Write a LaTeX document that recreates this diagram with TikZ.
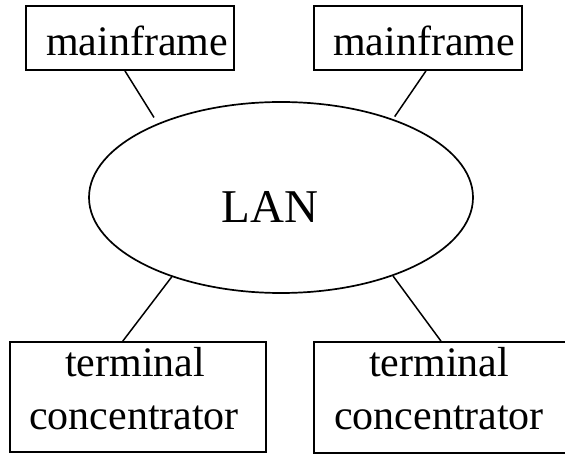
\documentclass[tikz,border=0pt]{standalone}
\usepackage{fontspec}
\setmainfont{Liberation Serif}
\usetikzlibrary{shapes.geometric,calc}
\begin{document}
\begin{tikzpicture}[x=1pt,y=-1pt,
  box/.style={draw,line width=1.8pt,rectangle,inner sep=0pt},
  lbl/.style={anchor=base,inner sep=0pt,font=\fontsize{42}{50}\selectfont},
  link/.style={line width=1.5pt}]
\useasboundingbox (0,0) rectangle (565,454);

% network cloud
\node[draw,ellipse,line width=1.7pt,minimum width=384,minimum height=191,inner sep=0pt] (lan) at (281,197.5) {};
\node[anchor=base,inner sep=0pt,font=\fontsize{47}{56}\selectfont] (lantext) at (270,223) {LAN};

% hosts
\node[box,minimum width=208,minimum height=64] (mf1) at (130,38) {};
\node[lbl,anchor=base west] (mf1t) at (46,56) {mainframe};
\node[box,minimum width=208,minimum height=64] (mf2) at (418,38) {};
\node[lbl,anchor=base west] (mf2t) at (333,56) {mainframe};

% concentrators (the right one runs past the page edge)
\node[box,minimum width=256,minimum height=110] (tc1) at (138,397) {};
\node[lbl] (tc1a) at (135,376) {terminal};
\node[lbl] (tc1b) at (134,429) {concentrator};
\node[box,minimum width=256,minimum height=111] (tc2) at (442,397.5) {};
\node[lbl] (tc2a) at (439,377) {terminal};
\node[lbl] (tc2b) at (439,429) {concentrator};

% links
\draw[link,shorten >=7pt] ($(mf1.south west)!0.476!(mf1.south east)$) -- (lan.149);
\draw[link,shorten >=3pt] ($(mf2.south west)!0.538!(mf2.south east)$) -- (lan.35);
\draw[link] (lan.216) -- ($(tc1.north west)!0.441!(tc1.north east)$);
\draw[link] (lan.325) -- ($(tc2.north west)!0.496!(tc2.north east)$);
\end{tikzpicture}
\end{document}
